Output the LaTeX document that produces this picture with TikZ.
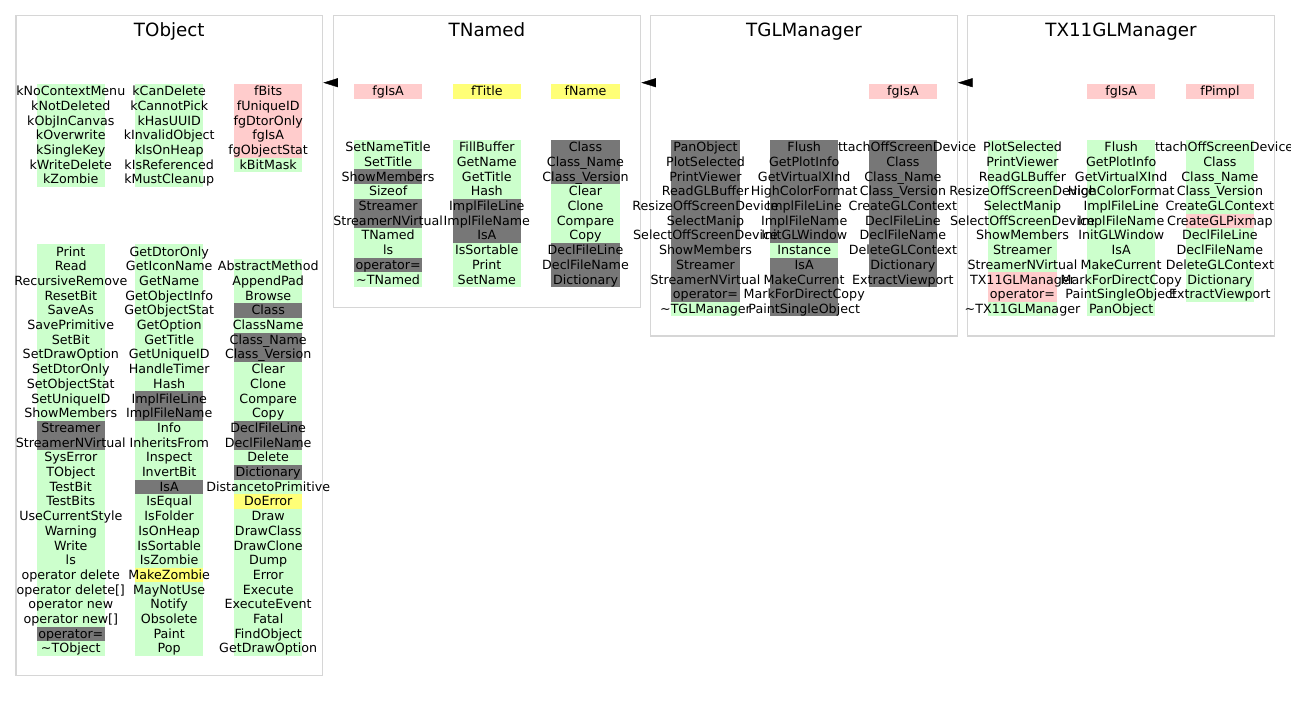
\documentclass[tikz,border=0pt]{standalone}
\usepackage{fontspec}
\setmainfont{DejaVu Sans}
\usetikzlibrary{arrows.meta,fit}

\definecolor{memg}{RGB}{204,255,204}
\definecolor{memr}{RGB}{255,204,204}
\definecolor{memy}{RGB}{255,255,119}
\definecolor{memk}{RGB}{119,119,119}
\definecolor{framegray}{RGB}{214,214,214}

\tikzset{
  entry/.style={anchor=base,inner sep=0pt,font=\fontsize{9.5pt}{11pt}\selectfont},
  classframe/.style={draw=framegray,line width=0.9pt,inner sep=0pt},
  classtitle/.style={anchor=base,inner sep=0pt,font=\fontsize{13.7pt}{16pt}\selectfont},
  inherit/.style={-{Triangle[length=11pt,width=6.75pt]},line width=0.3pt},
}

% One column of class members: #1 name prefix, #2 centre x, #3 top y,
% #4 list of colour/text pairs (colour is g, r, y or k).
\newcommand\memcol[4]{%
  \foreach \c/\t [count=\i] in {#4}{%
    \pgfmathsetmacro\ya{#3+(\i-1)*14.7}%
    \pgfmathsetmacro\yb{\ya+14.7}%
    \fill[mem\c] (#2-34.15,\ya) rectangle (#2+34.15,\yb);
  }%
  \foreach \c/\t [count=\i] in {#4}{%
    \pgfmathsetmacro\yt{#3+(\i-1)*14.7+11.75}%
    \node[entry] (#1-\i) at (#2,\yt) {\t};
  }%
}
\newcommand\tld{\textasciitilde}

\begin{document}
\begin{tikzpicture}[x=0.75pt,y=-0.75pt]
\path[use as bounding box,fill=white] (0,0) rectangle (1291,703);

% class frames
\node[classframe, fit={(16,15.7) (322.7,675.7)}] (tobject) {};
\node[classframe, fit={(333.3,15.7) (640.7,307.3)}] (tnamed) {};
\node[classframe, fit={(650.7,15.7) (957.3,336)}] (tglmanager) {};
\node[classframe, fit={(967.7,15.7) (1274.3,336)}] (tx11glmanager) {};

% titles
\node[classtitle] (tobject-title) at (169.3,36.2) {TObject};
\node[classtitle] (tnamed-title) at (487,36.2) {TNamed};
\node[classtitle] (tglmanager-title) at (804,36.2) {TGLManager};
\node[classtitle] (tx11glmanager-title) at (1121,36.2) {TX11GLManager};

% inheritance arrows
\coordinate (arrowrow) at (0,82.7);
\draw[inherit] (tnamed.west |- arrowrow) -- (tobject.east |- arrowrow);
\draw[inherit] (tglmanager.west |- arrowrow) -- (tnamed.east |- arrowrow);
\draw[inherit] (tx11glmanager.west |- arrowrow) -- (tglmanager.east |- arrowrow);

% ---------------- TObject ----------------
\memcol{tobject-d3}{268.2}{84}{r/fBits,r/fUniqueID,r/fgDtorOnly,r/fgIsA,r/fgObjectStat,g/kBitMask}
\memcol{tobject-d2}{169.2}{84}{g/kCanDelete,g/kCannotPick,g/kHasUUID,g/kInvalidObject,g/kIsOnHeap,g/kIsReferenced,g/kMustCleanup}
\memcol{tobject-d1}{70.8}{84}{g/kNoContextMenu,g/kNotDeleted,g/kObjInCanvas,g/kOverwrite,g/kSingleKey,g/kWriteDelete,g/kZombie}

\memcol{tobject-m3}{268.2}{259}{g/AbstractMethod,g/AppendPad,g/Browse,k/Class,g/ClassName,k/Class\_Name,k/Class\_Version,g/Clear,g/Clone,g/Compare,g/Copy,k/DeclFileLine,k/DeclFileName,g/Delete,k/Dictionary,g/DistancetoPrimitive,y/DoError,g/Draw,g/DrawClass,g/DrawClone,g/Dump,g/Error,g/Execute,g/ExecuteEvent,g/Fatal,g/FindObject,g/GetDrawOption}
\memcol{tobject-m2}{169.2}{244.3}{g/GetDtorOnly,g/GetIconName,g/GetName,g/GetObjectInfo,g/GetObjectStat,g/GetOption,g/GetTitle,g/GetUniqueID,g/HandleTimer,g/Hash,k/ImplFileLine,k/ImplFileName,g/Info,g/InheritsFrom,g/Inspect,g/InvertBit,k/IsA,g/IsEqual,g/IsFolder,g/IsOnHeap,g/IsSortable,g/IsZombie,y/MakeZombie,g/MayNotUse,g/Notify,g/Obsolete,g/Paint,g/Pop}
\memcol{tobject-m1}{70.8}{244.3}{g/Print,g/Read,g/RecursiveRemove,g/ResetBit,g/SaveAs,g/SavePrimitive,g/SetBit,g/SetDrawOption,g/SetDtorOnly,g/SetObjectStat,g/SetUniqueID,g/ShowMembers,k/Streamer,k/StreamerNVirtual,g/SysError,g/TObject,g/TestBit,g/TestBits,g/UseCurrentStyle,g/Warning,g/Write,g/ls,g/operator delete,g/operator delete[],g/operator new,g/operator new[],k/operator=,g/\tld TObject}

% ---------------- TNamed ----------------
\memcol{tnamed-d3}{585.5}{84}{y/fName}
\memcol{tnamed-d2}{486.8}{84}{y/fTitle}
\memcol{tnamed-d1}{388.1}{84}{r/fgIsA}

\memcol{tnamed-m3}{585.5}{140}{k/Class,k/Class\_Name,k/Class\_Version,g/Clear,g/Clone,g/Compare,g/Copy,k/DeclFileLine,k/DeclFileName,k/Dictionary}
\memcol{tnamed-m2}{486.8}{140}{g/FillBuffer,g/GetName,g/GetTitle,g/Hash,k/ImplFileLine,k/ImplFileName,k/IsA,g/IsSortable,g/Print,g/SetName}
\memcol{tnamed-m1}{388.1}{140}{g/SetNameTitle,g/SetTitle,k/ShowMembers,g/Sizeof,k/Streamer,k/StreamerNVirtual,g/TNamed,g/ls,k/operator=,g/\tld TNamed}

% ---------------- TGLManager ----------------
\memcol{tglmanager-d3}{902.9}{84}{r/fgIsA}

\memcol{tglmanager-m3}{902.9}{140}{k/AttachOffScreenDevice,k/Class,k/Class\_Name,k/Class\_Version,k/CreateGLContext,k/DeclFileLine,k/DeclFileName,k/DeleteGLContext,k/Dictionary,k/ExtractViewport}
\memcol{tglmanager-m2}{804.2}{140}{k/Flush,k/GetPlotInfo,k/GetVirtualXInd,k/HighColorFormat,k/ImplFileLine,k/ImplFileName,k/InitGLWindow,g/Instance,k/IsA,k/MakeCurrent,k/MarkForDirectCopy,k/PaintSingleObject}
\memcol{tglmanager-m1}{705.5}{140}{k/PanObject,k/PlotSelected,k/PrintViewer,k/ReadGLBuffer,k/ResizeOffScreenDevice,k/SelectManip,k/SelectOffScreenDevice,k/ShowMembers,k/Streamer,k/StreamerNVirtual,k/operator=,g/\tld TGLManager}

% ---------------- TX11GLManager ----------------
\memcol{tx11glmanager-d3}{1219.9}{84}{r/fPimpl}
\memcol{tx11glmanager-d2}{1121.2}{84}{r/fgIsA}

\memcol{tx11glmanager-m3}{1219.9}{140}{g/AttachOffScreenDevice,g/Class,g/Class\_Name,g/Class\_Version,g/CreateGLContext,r/CreateGLPixmap,g/DeclFileLine,g/DeclFileName,g/DeleteGLContext,g/Dictionary,g/ExtractViewport}
\memcol{tx11glmanager-m2}{1121.2}{140}{g/Flush,g/GetPlotInfo,g/GetVirtualXInd,g/HighColorFormat,g/ImplFileLine,g/ImplFileName,g/InitGLWindow,g/IsA,g/MakeCurrent,g/MarkForDirectCopy,g/PaintSingleObject,g/PanObject}
\memcol{tx11glmanager-m1}{1022.5}{140}{g/PlotSelected,g/PrintViewer,g/ReadGLBuffer,g/ResizeOffScreenDevice,g/SelectManip,g/SelectOffScreenDevice,g/ShowMembers,g/Streamer,g/StreamerNVirtual,r/TX11GLManager,r/operator=,g/\tld TX11GLManager}

\end{tikzpicture}
\end{document}
